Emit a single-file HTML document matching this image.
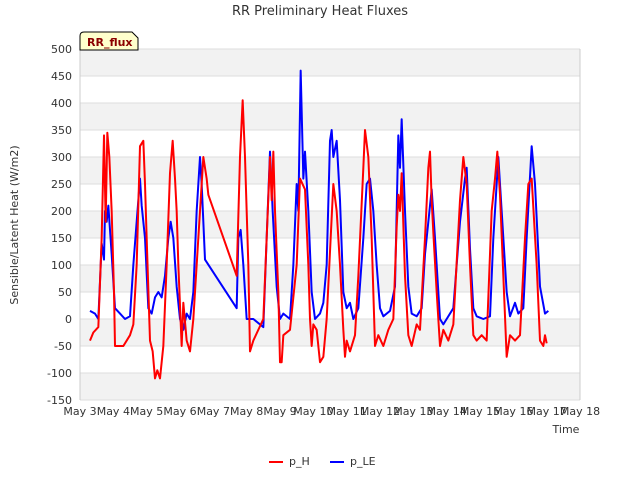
<!DOCTYPE html>
<html><head><meta charset="utf-8"><style>
body{margin:0;background:#fff;font-family:"Liberation Sans","DejaVu Sans",sans-serif}
</style></head><body>
<svg id="c" width="640" height="480" style="font-family:'DejaVu Sans','Liberation Sans',sans-serif">
<text x="320" y="15" text-anchor="middle" font-size="13" fill="#333">RR Preliminary Heat Fluxes</text>
<g id="bands"></g><g id="grid"></g><g id="ticks"></g>
<text x="18" y="225" transform="rotate(-90 18 225)" text-anchor="middle" font-size="11" fill="#333">Sensible/Latent Heat (W/m2)</text>
<text x="566" y="433" text-anchor="middle" font-size="11" fill="#333">Time</text>
<g id="series"></g>
<g><path d="M80,50 L80,36 Q80,32 84,32 L132,32 L138,38 L138,50 Z" fill="#ffffcc" stroke="#000"/><text x="87" y="46" font-size="11" font-weight="bold" fill="#8b0000">RR_flux</text></g>
<g>
<g><line x1="269" y1="462" x2="283" y2="462" stroke="#f00" stroke-width="2"/><text x="289" y="465" font-size="11" fill="#333">p_H</text></g>
<g><line x1="330" y1="462" x2="344" y2="462" stroke="#00f" stroke-width="2"/><text x="350" y="465" font-size="11" fill="#333">p_LE</text></g>
</g>
</svg>
<script>
const xTickLabels=["May 3","May 4","May 5","May 6","May 7","May 8","May 9","May 10","May 11","May 12","May 13","May 14","May 15","May 16","May 17","May 18"];
const yTicks=[-150,-100,-50,0,50,100,150,200,250,300,350,400,450,500];
const hDays=[0.3,0.4,0.55,0.65,0.72,0.77,0.82,0.88,0.95,1.02,1.05,1.3,1.5,1.6,1.7,1.8,1.9,1.95,2.0,2.1,2.18,2.25,2.32,2.4,2.5,2.6,2.7,2.78,2.85,2.9,2.95,3.05,3.1,3.2,3.3,3.4,3.55,3.7,3.8,3.85,4.7,4.8,4.88,4.95,5.05,5.1,5.2,5.5,5.6,5.7,5.75,5.8,5.85,5.95,6.0,6.05,6.1,6.3,6.5,6.6,6.75,6.85,6.9,6.95,7.0,7.1,7.2,7.3,7.4,7.6,7.7,7.8,7.9,7.95,8.0,8.1,8.25,8.35,8.5,8.55,8.65,8.75,8.85,8.95,9.1,9.25,9.4,9.5,9.55,9.6,9.65,9.75,9.85,9.95,10.1,10.2,10.35,10.45,10.5,10.55,10.6,10.7,10.8,10.9,11.05,11.2,11.4,11.5,11.6,11.7,11.8,11.9,12.05,12.2,12.35,12.45,12.52,12.6,12.7,12.8,12.9,13.05,13.2,13.35,13.45,13.55,13.7,13.8,13.9,13.95,14.0];
const hVals=[-40,-25,-15,150,340,180,345,300,200,50,-50,-50,-30,-10,100,320,330,250,150,-40,-60,-110,-95,-110,-50,100,270,330,260,200,100,-50,30,-40,-60,0,150,300,260,230,80,300,405,300,100,-60,-40,0,150,300,220,310,200,50,-80,-80,-30,-20,100,260,240,100,0,-50,-10,-20,-80,-70,0,250,200,100,-20,-70,-40,-60,-30,80,280,350,300,150,-50,-30,-50,-20,0,170,230,200,270,80,-30,-50,-10,-20,150,280,310,220,160,50,-50,-20,-40,-10,220,300,250,100,-30,-40,-30,-40,200,260,310,230,80,-70,-30,-40,-30,150,250,260,100,-40,-50,-30,-45];
const leDays=[0.3,0.45,0.55,0.65,0.72,0.75,0.8,0.85,0.95,1.05,1.2,1.35,1.5,1.6,1.75,1.8,1.85,1.95,2.05,2.15,2.25,2.35,2.45,2.55,2.65,2.72,2.8,2.9,3.0,3.1,3.2,3.3,3.4,3.5,3.6,3.65,3.75,4.7,4.75,4.82,4.9,5.0,5.2,5.5,5.6,5.7,5.78,5.9,6.0,6.1,6.3,6.4,6.5,6.55,6.62,6.7,6.75,6.85,6.95,7.05,7.2,7.3,7.4,7.5,7.55,7.6,7.7,7.8,7.9,8.0,8.1,8.2,8.35,8.5,8.6,8.7,8.8,8.9,9.0,9.1,9.3,9.45,9.5,9.55,9.6,9.65,9.75,9.85,9.95,10.1,10.25,10.35,10.45,10.55,10.65,10.8,10.9,11.0,11.2,11.4,11.55,11.6,11.7,11.8,11.9,12.1,12.3,12.4,12.55,12.65,12.8,12.9,13.05,13.15,13.3,13.4,13.55,13.65,13.8,13.95,14.05];
const leVals=[15,10,0,140,110,200,180,210,120,20,10,0,5,100,220,260,210,150,20,10,40,50,40,80,150,180,150,60,0,-20,10,0,50,200,300,250,110,20,150,165,100,0,0,-15,150,310,200,60,0,10,0,100,250,200,460,260,310,200,50,0,10,30,100,330,350,300,330,220,50,20,30,0,20,150,250,260,200,100,20,5,15,60,200,340,280,370,200,60,10,5,20,120,180,240,150,0,-10,0,20,180,260,280,130,20,5,0,5,150,300,200,50,5,30,10,20,150,320,250,60,10,15];
const NS="http://www.w3.org/2000/svg";
const X0=80,X1=580,Y0=400,Y1=49;
const xS=d=>X0+d*(X1-X0)/15;
const yS=v=>Y0-(v+150)*(Y0-Y1)/650;
function mk(t,a,p){const e=document.createElementNS(NS,t);for(const k in a)e.setAttribute(k,a[k]);document.getElementById(p).appendChild(e);return e;}
for(let i=0;i<yTicks.length-1;i++){
  if(yTicks[i]%100!==0){
    const b=mk('rect',{x:X0,y:yS(yTicks[i+1]),width:X1-X0,height:yS(yTicks[i])-yS(yTicks[i+1]),fill:'#f2f2f2'},'bands');
    
    
  }
}
yTicks.forEach(v=>{
  const l=mk('line',{x1:X0,x2:X1,y1:yS(v),y2:yS(v),stroke:'#ddd'},'grid');
  
  
  const t=mk('text',{x:X0-8,y:yS(v)+4,'text-anchor':'end','font-size':11,fill:'#333'},'ticks');
  t.textContent=v;
  
  
});
mk('line',{x1:X0,x2:X0,y1:Y1,y2:Y0,stroke:'#ccc'},'grid');
mk('line',{x1:X1,x2:X1,y1:Y1,y2:Y0,stroke:'#ccc'},'grid');
xTickLabels.forEach((s,i)=>{
  const t=mk('text',{x:xS(i),y:Y0+15,'text-anchor':'middle','font-size':11,fill:'#333'},'ticks');
  t.textContent=s;
  
  
});
function line(days,vals,col,name){
  const p=mk('polyline',{points:days.map((d,i)=>xS(d)+','+yS(vals[i])).join(' '),fill:'none',stroke:col,'stroke-width':2,'stroke-linejoin':'round'},'series');
  
  
}
line(leDays,leVals,'#00f','series-p-le');
line(hDays,hVals,'#f00','series-p-h');
</script>
</body></html>
